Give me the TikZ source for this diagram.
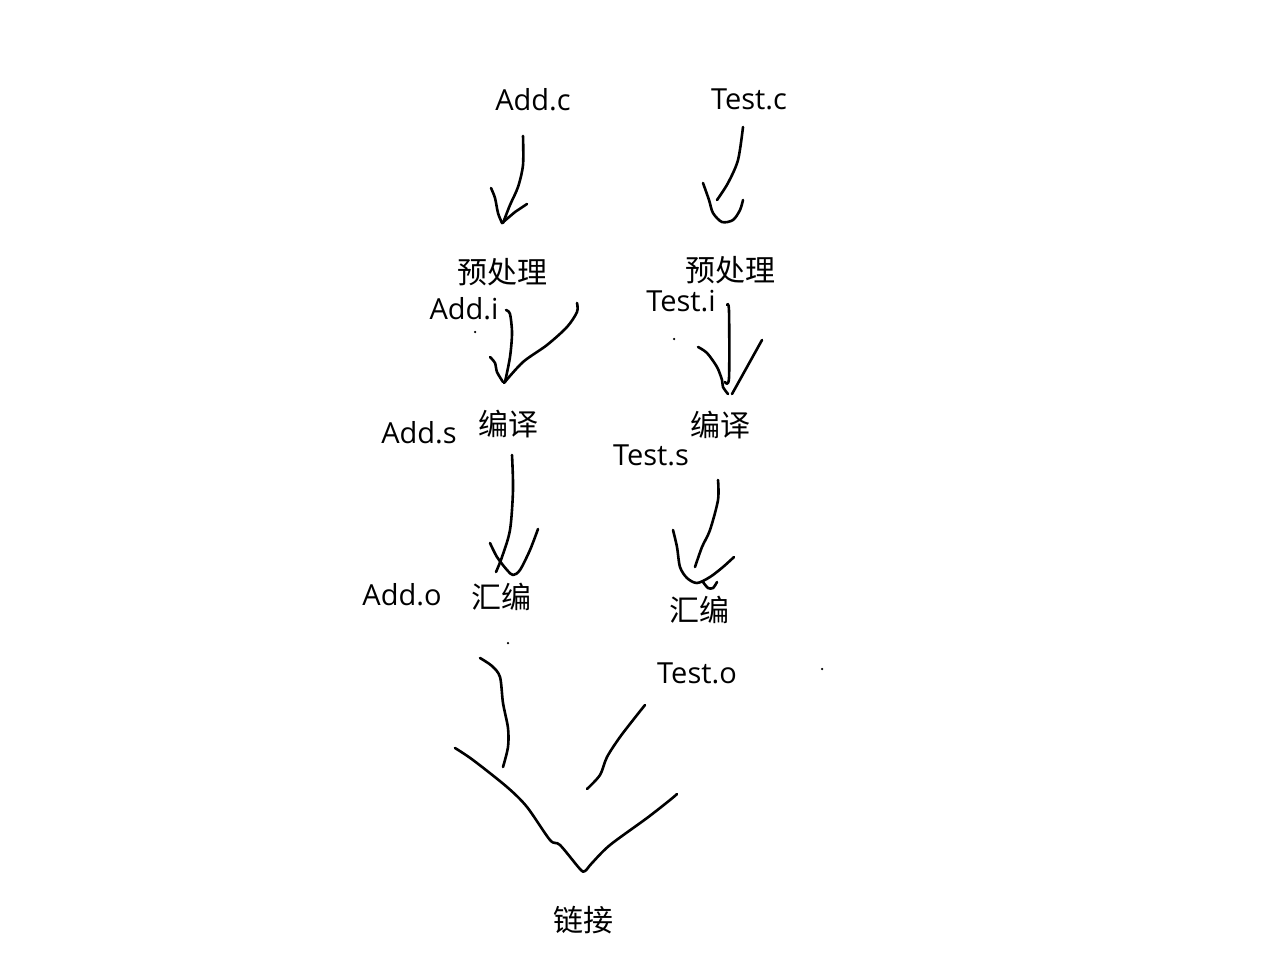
\documentclass[tikz,border=0pt]{standalone}
\usepackage{fontspec}
\setmainfont{Open Sans}
\newfontfamily\cjkfont{Noto Sans CJK SC}
\begin{document}
\begin{tikzpicture}[x=1pt,y=-1pt,
  stroke/.style={draw=black,line width=2.6pt,line cap=round,line join=round},
  lat/.style={anchor=base,inner sep=0pt,font=\fontsize{29}{34}\selectfont},
  han/.style={anchor=base,inner sep=0pt,font=\cjkfont\fontsize{30}{36}\selectfont},
  speck/.style={fill=black,circle,inner sep=0pt,minimum size=2.5pt}]
\useasboundingbox[fill=white] (0,0) rectangle (1273,961);

% labels
\node[lat] (addc) at (533,110) {Add.c};
\node[lat] (testc) at (749,109) {Test.c};
\node[han] (pre1) at (502,283) {预处理};
\node[han] (pre2) at (730,281) {预处理};
\node[lat] (addi) at (464,319) {Add.i};
\node[lat] (testi) at (681,311) {Test.i};
\node[han] (cmp1) at (508,435) {编译};
\node[han] (cmp2) at (720,436) {编译};
\node[lat] (adds) at (419,443) {Add.s};
\node[lat] (tests) at (651,465) {Test.s};
\node[lat] (addo) at (402,605) {Add.o};
\node[han] (asm1) at (501,608) {汇编};
\node[han] (asm2) at (699,621) {汇编};
\node[lat] (testo) at (697,683) {Test.o};
\node[han] (link) at (583,931) {链接};

% specks
\node[speck] (s1) at (475,332) {};
\node[speck] (s2) at (674,339) {};
\node[speck] (s3) at (508,643) {};
\node[speck] (s4) at (822,669) {};

% Add.c -> 预处理
\draw[stroke] plot[smooth] coordinates {(523,136) (523,165) (518,187) (510,205) (503,223)};
\draw[stroke] plot[smooth] coordinates {(491,188) (495,198) (498,213) (502,223)} -- (515,212) -- (527,204);

% Test.c -> 预处理
\draw[stroke] plot[smooth] coordinates {(743,127) (738,160) (728,183) (717,200)};
\draw[stroke] plot[smooth] coordinates {(703,183) (709,200) (713,213) (722,222) (733,220) (740,210) (743,200)};

% Add.i -> 编译
\draw[stroke] plot[smooth] coordinates {(506,310) (510,314) (512,333) (510,357) (505,382)};
\draw[stroke] plot[smooth] coordinates {(490,357) (495,363) (497,372) (503,382)};
\draw[stroke] plot[smooth] coordinates {(504,383) (523,362) (547,345) (567,327) (577,312) (577,303)};

% Test.i -> 编译
\draw[stroke] plot[smooth] coordinates {(727,305) (729,311) (729,378) (725,382)};
\draw[stroke] plot[smooth] coordinates {(698,347) (707,353) (717,367) (722,380) (723,387) (728,394)};
\draw[stroke] plot[smooth] coordinates {(732,394) (747,367) (762,340)};

% Add.s -> 汇编
\draw[stroke] plot[smooth] coordinates {(512,455) (513,490) (510,530) (502,557) (496,572)};
\draw[stroke] plot[smooth] coordinates {(490,543) (497,557) (507,570) (513,575) (520,570) (530,550) (538,529)};

% Test.s -> 汇编
\draw[stroke] plot[smooth] coordinates {(718,480) (718,500) (710,530) (702,547) (695,567)};
\draw[stroke] plot[smooth] coordinates {(673,530) (677,547) (680,567) (687,578) (697,583) (710,577) (723,567) (734,557)};
\draw[stroke] plot[smooth] coordinates {(703,582) (708,588) (713,588) (717,582)};

% Add.o -> 链接
\draw[stroke] plot[smooth] coordinates {(480,658) (492,666) (500,677) (503,703) (508,728) (508,747) (503,767)};

% Test.o -> 链接
\draw[stroke] plot[smooth] coordinates {(645,705) (637,715) (620,737) (607,757) (600,775) (587,789)};

% big V
\draw[stroke] plot[smooth] coordinates {(455,748) (473,760) (507,787) (527,807) (550,840) (560,845) (580,869) (585,871) (592,863) (610,845) (647,818) (670,800) (677,794)};
\end{tikzpicture}
\end{document}
